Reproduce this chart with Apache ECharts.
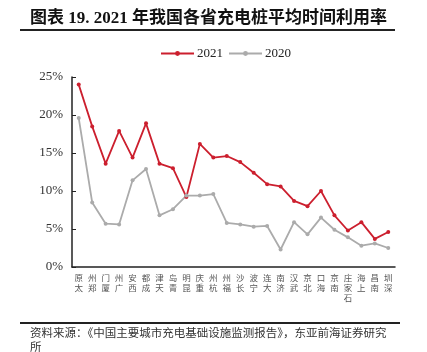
<!DOCTYPE html>
<html>
<head>
<meta charset="utf-8">
<script src="https://cdn.jsdelivr.net/npm/echarts@6/dist/echarts.min.js"></script>
<style>
    html, body { margin: 0; padding: 0; background: #fff; }
    #chart { width: 427px; height: 352px; }
</style>
</head>
<body>
<div id="chart"></div>
<script>
// 城市
const cities = ['太原', '郑州', '厦门', '广州', '西安', '成都', '天津', '青岛', '昆明', '重庆', '杭州', '福州',
    '长沙', '宁波', '大连', '济南', '武汉', '北京', '海口', '南京', '石家庄', '上海', '南昌', '深圳'];
// 2021 年利用率 (%)
const rate2021 = [24.0, 18.5, 13.6, 17.9, 14.4, 18.9, 13.6, 13.0, 9.2, 16.2, 14.4, 14.6,
    13.8, 12.4, 10.9, 10.6, 8.7, 8.0, 10.0, 6.8, 4.8, 5.9, 3.7, 4.6];
// 2020 年利用率 (%)
const rate2020 = [19.6, 8.5, 5.7, 5.6, 11.4, 12.9, 6.8, 7.6, 9.4, 9.4, 9.6, 5.8,
    5.6, 5.3, 5.4, 2.3, 5.9, 4.3, 6.5, 4.9, 3.9, 2.8, 3.1, 2.5];
const yTicks = [0, 5, 10, 15, 20, 25];

const serif = '"Liberation Serif", "Noto Sans CJK SC", serif';
const chart = echarts.init(document.getElementById('chart'));

chart.setOption({
    animation: false,
    title: {
        text: '图表 19. 2021 年我国各省充电桩平均时间利用率',
        left: 25,
        top: 5,
        textStyle: { fontFamily: serif, fontWeight: 'bold', fontSize: 17, color: '#111' }
    },
    graphic: [
        { type: 'line', shape: { x1: 20, y1: 30, x2: 395, y2: 30 }, style: { stroke: '#222', lineWidth: 2 } },
        { type: 'line', shape: { x1: 20, y1: 323, x2: 400, y2: 323 }, style: { stroke: '#222', lineWidth: 2 } },
        {
            type: 'text', left: 30, top: 326,
            style: {
                text: '资料来源：《中国主要城市充电基础设施监测报告》，东亚前海证券研究\n所',
                font: '11.5px "Noto Sans CJK SC"', fill: '#333', lineHeight: 14
            }
        }
    ],
    legend: {
        data: ['2021', '2020'],
        top: 42,
        left: 155,
        itemWidth: 33,
        itemHeight: 6,
        itemGap: 5,
        textStyle: { fontFamily: serif, fontSize: 13, color: '#222', padding: [0, 0, 0, -2] }
    },
    grid: { left: 72, right: 32, top: 77, bottom: 85 },
    xAxis: {
        type: 'category',
        data: cities,
        boundaryGap: true,
        axisLine: { lineStyle: { color: '#222', width: 1.5 } },
        axisTick: { show: false },
        axisLabel: {
            interval: 0,
            margin: 6,
            fontSize: 8.5,
            lineHeight: 10,
            color: '#555',
            fontFamily: '"Noto Sans CJK SC"',
            verticalAlign: 'top',
            formatter: v => v.split('').reverse().join('\n')
        }
    },
    yAxis: {
        type: 'value',
        min: 0,
        max: 25,
        interval: 5,
        splitLine: { show: false },
        axisLine: { show: true, lineStyle: { color: '#222', width: 1.5 } },
        axisTick: { show: true, inside: true, length: 4, lineStyle: { color: '#222' } },
        axisLabel: {
            margin: 9,
            fontFamily: serif,
            fontSize: 13,
            color: '#333',
            formatter: v => yTicks.includes(v) ? v + '%' : ''
        }
    },
    series: [
        {
            name: '2021',
            type: 'line',
            data: rate2021,
            symbol: 'circle',
            symbolSize: 4,
            lineStyle: { color: '#cc1f2e', width: 1.8 },
            itemStyle: { color: '#cc1f2e' }
        },
        {
            name: '2020',
            type: 'line',
            data: rate2020,
            symbol: 'circle',
            symbolSize: 4,
            lineStyle: { color: '#ababab', width: 1.8 },
            itemStyle: { color: '#ababab' }
        }
    ]
});
</script>
</body>
</html>
